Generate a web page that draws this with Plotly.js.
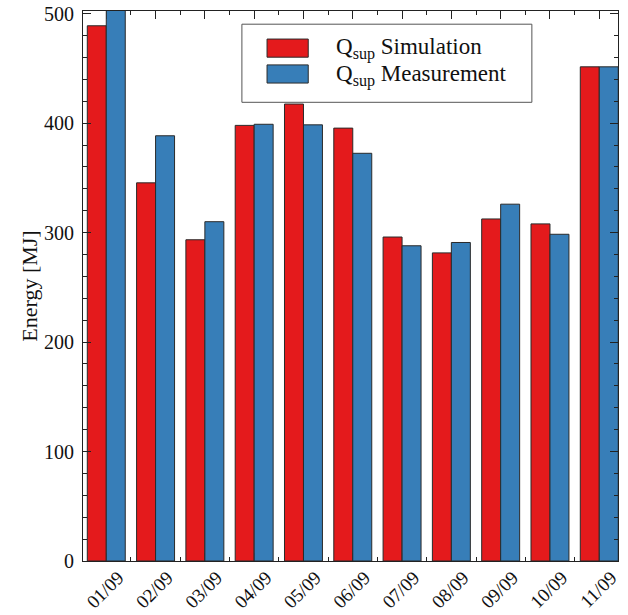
<!DOCTYPE html>
<html>
<head>
<meta charset="utf-8">
<script src="https://cdn.plot.ly/plotly-3.0.1.min.js"></script>
<style>html,body{margin:0;padding:0;background:#fff;}#chart{width:628px;height:615px;}</style>
</head>
<body>
<div id="chart"></div>
<script>
const categories = ["01/09","02/09","03/09","04/09","05/09","06/09","07/09","08/09","09/09","10/09","11/09"];
const simulation = [489, 345.5, 293.5, 398, 417.5, 395.5, 296, 281.5, 312.5, 308, 451.5];
const measurement = [510, 388.5, 310, 399, 398.5, 372.5, 288, 291, 326, 298.5, 451.5];
const yTickVals = [0, 100, 200, 300, 400, 500];
const seriesNames = ["Q<sub>sup</sub> Simulation", "Q<sub>sup</sub> Measurement"];
const seriesColors = ["#e41a1c", "#377eb8"];

const idx = categories.map((c, i) => i);
const serif = "Liberation Serif";

const traces = [
  {type: "bar", x: idx, y: simulation, name: seriesNames[0],
   marker: {color: seriesColors[0], line: {color: "#2a2a2a", width: 1}}},
  {type: "bar", x: idx, y: measurement, name: seriesNames[1],
   marker: {color: seriesColors[1], line: {color: "#2a2a2a", width: 1}}}
];

const L = {x0: 0.297, x1: 0.839, y0: 0.834, y1: 0.976};
const sw = [{y0: 0.916, y1: 0.949, ty: 0.931}, {y0: 0.869, y1: 0.902, ty: 0.882}];
const shapes = [
  {type: "rect", xref: "paper", yref: "paper", x0: L.x0, x1: L.x1, y0: L.y0, y1: L.y1,
   line: {color: "#555", width: 1}, fillcolor: "#fff", layer: "above"}
];
const annotations = [];
sw.forEach((s, i) => {
  shapes.push({type: "rect", xref: "paper", yref: "paper", x0: 0.344, x1: 0.421, y0: s.y0, y1: s.y1,
    line: {color: "#2a2a2a", width: 1}, fillcolor: seriesColors[i], layer: "above"});
  annotations.push({xref: "paper", yref: "paper", x: 0.469, y: s.ty, xanchor: "left", yanchor: "middle",
    text: seriesNames[i], showarrow: false, font: {family: serif, size: 23, color: "#111"}});
});

const layout = {
  width: 628, height: 615,
  margin: {l: 83, r: 10, t: 11, b: 54},
  paper_bgcolor: "#fff", plot_bgcolor: "#fff",
  showlegend: false,
  barmode: "group", bargap: 0.23, bargroupgap: 0,
  font: {family: serif, color: "#111"},
  xaxis: {
    range: [-0.472, 10.38], tickmode: "array", tickvals: idx, ticktext: categories,
    tickangle: -45, ticks: "inside", ticklen: 8, tickcolor: "#222", tickwidth: 1,
    showline: true, linecolor: "#222", linewidth: 1, mirror: "ticks",
    showgrid: false, zeroline: false, layer: "below traces",
    ticklabelshift: 12, ticklabelstandoff: -3,
    tickfont: {family: serif, size: 19, color: "#111"},
    minor: {tickmode: "linear", tick0: 0.5, dtick: 1, ticks: "inside", ticklen: 4, tickcolor: "#222", showgrid: false}
  },
  yaxis: {
    range: [0, 502.5], tickmode: "array", tickvals: yTickVals,
    ticks: "inside", ticklen: 8, tickcolor: "#222", tickwidth: 1,
    showline: true, linecolor: "#222", linewidth: 1, mirror: "ticks",
    showgrid: false, zeroline: false, ticklabelstandoff: 4,
    tickfont: {family: serif, size: 20, color: "#111"},
    title: {text: "Energy [MJ]", font: {family: serif, size: 22, color: "#111"}, standoff: 0},
    minor: {tickmode: "linear", tick0: 0, dtick: 20, ticks: "inside", ticklen: 4, tickcolor: "#222", showgrid: false}
  },
  shapes: shapes,
  annotations: annotations
};

Plotly.newPlot("chart", traces, layout, {displayModeBar: false, staticPlot: true});
</script>
</body>
</html>
